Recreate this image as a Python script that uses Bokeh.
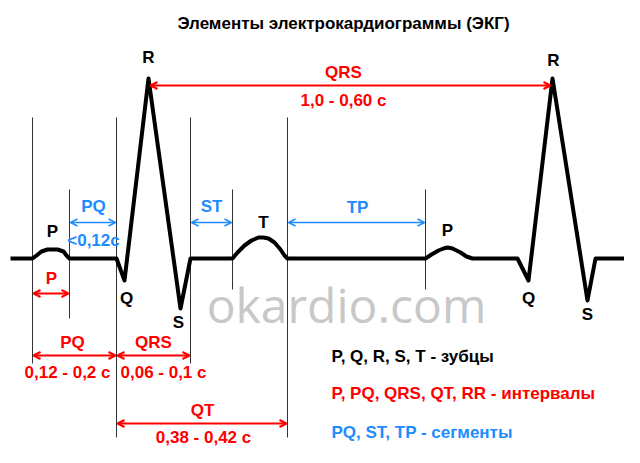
from bokeh.plotting import figure
from bokeh.models import Range1d, Arrow, OpenHead, ColumnDataSource
from bokeh.core.properties import value
from bokeh.embed import file_html
from bokeh.resources import INLINE

# ---- data (diagram coordinates) ----
title = "Элементы электрокардиограммы (ЭКГ)"

ecg_x = [10, 32, 36, 41, 47, 52, 57, 63, 66, 69, 116, 124, 148, 180, 190,
         232, 237, 244, 251, 258, 263, 268, 274, 280, 284, 287,
         425, 431, 438, 443, 447, 452, 460, 466, 472, 517, 528, 552, 587, 595, 627]
ecg_y = [258, 258, 255, 251, 249, 249, 249, 251, 255, 258, 258, 280, 78, 308, 258,
         258, 252, 245, 240, 237, 237, 238, 242, 249, 255, 258,
         258, 254, 250, 248, 247, 248, 252, 256, 258, 258, 280, 78, 300, 258, 258]

v_x = [32, 69, 116, 190, 232, 287, 425]
v_top = [117, 189, 117, 117, 189, 117, 189]
v_bot = [363, 318, 437, 363, 289, 437, 289]

red_ax0 = [33, 33, 117, 117, 150]
red_ax1 = [68, 115, 189, 286, 550]
red_ay = [293, 355, 355, 423, 85]

blue_ax0 = [70, 191, 288]
blue_ax1 = [115, 231, 424]
blue_ay = [222, 222, 222]

black_txt = ["R", "R", "P", "T", "P", "Q", "S", "Q", "S"]
black_tx = [148, 553, 52, 263, 447, 126, 178, 528, 587]
black_ty = [57, 60, 231, 222, 230, 298, 322, 298, 314]

red_txt = ["QRS", "1,0 - 0,60 с", "P", "PQ", "0,12 - 0,2 с", "QRS", "0,06 - 0,1 с",
           "QT", "0,38 - 0,42 с"]
red_tx = [343, 343, 51, 72, 67, 153, 163, 202, 203]
red_ty = [72, 100, 278, 342, 372, 342, 372, 410, 437]

blue_txt = ["PQ", "<0,12c", "ST", "TP"]
blue_tx = [93, 93, 211, 357]
blue_ty = [206, 240, 206, 207]

legend_txt = ["P, Q, R, S, T - зубцы", "P, PQ, QRS, QT, RR - интервалы", "PQ, ST, TP - сегменты"]
legend_y = [356, 393, 432]
legend_x = 331

watermark = "okardio.com"

RED = "#ff0000"
BLUE = "#1e8cff"
FONT = value("Liberation Sans")

p = figure(width=624, height=447, output_backend="svg", toolbar_location=None,
           x_range=Range1d(0, 624), y_range=Range1d(447, 0), min_border=0)
p.axis.visible = False
p.xgrid.visible = False
p.ygrid.visible = False
p.outline_line_color = None
p.background_fill_color = "white"

# watermark
p.text(x=[346], y=[304], text=[watermark], text_font=value("Open Sans"),
       text_font_size="48px", text_color="#c8c8c8", text_align="center",
       text_baseline="alphabetic")

# vertical guide lines
p.segment(x0=v_x, y0=v_top, x1=v_x, y1=v_bot, line_color="#333333", line_width=1)

# ECG trace
p.line(ecg_x, ecg_y, line_color="black", line_width=4, line_join="round")

# arrows
def add_arrows(x0s, x1s, ys, color, lw):
    src = ColumnDataSource(dict(x0=x0s, x1=x1s, y=ys))
    p.add_layout(Arrow(start=OpenHead(size=7, line_color=color, line_width=lw),
                       end=OpenHead(size=7, line_color=color, line_width=lw),
                       x_start="x0", y_start="y", x_end="x1", y_end="y",
                       line_color=color, line_width=lw, source=src))

add_arrows(red_ax0, red_ax1, red_ay, RED, 2)
add_arrows(blue_ax0, blue_ax1, blue_ay, BLUE, 1.5)

def labels(xs, ys, txt, color, align="center", size="17px"):
    p.text(x=xs, y=ys, text=txt, text_font=FONT, text_font_style="bold",
           text_font_size=size, text_color=color, text_align=align,
           text_baseline="middle")

labels([343], [23], [title], "black", size="17px")
labels(black_tx, black_ty, black_txt, "black")
labels(red_tx, red_ty, red_txt, RED)
labels(blue_tx, blue_ty, blue_txt, BLUE)
labels([legend_x] * 3, legend_y, legend_txt, ["black", RED, BLUE], align="left")

open("out.html", "w").write(file_html(p, INLINE))
